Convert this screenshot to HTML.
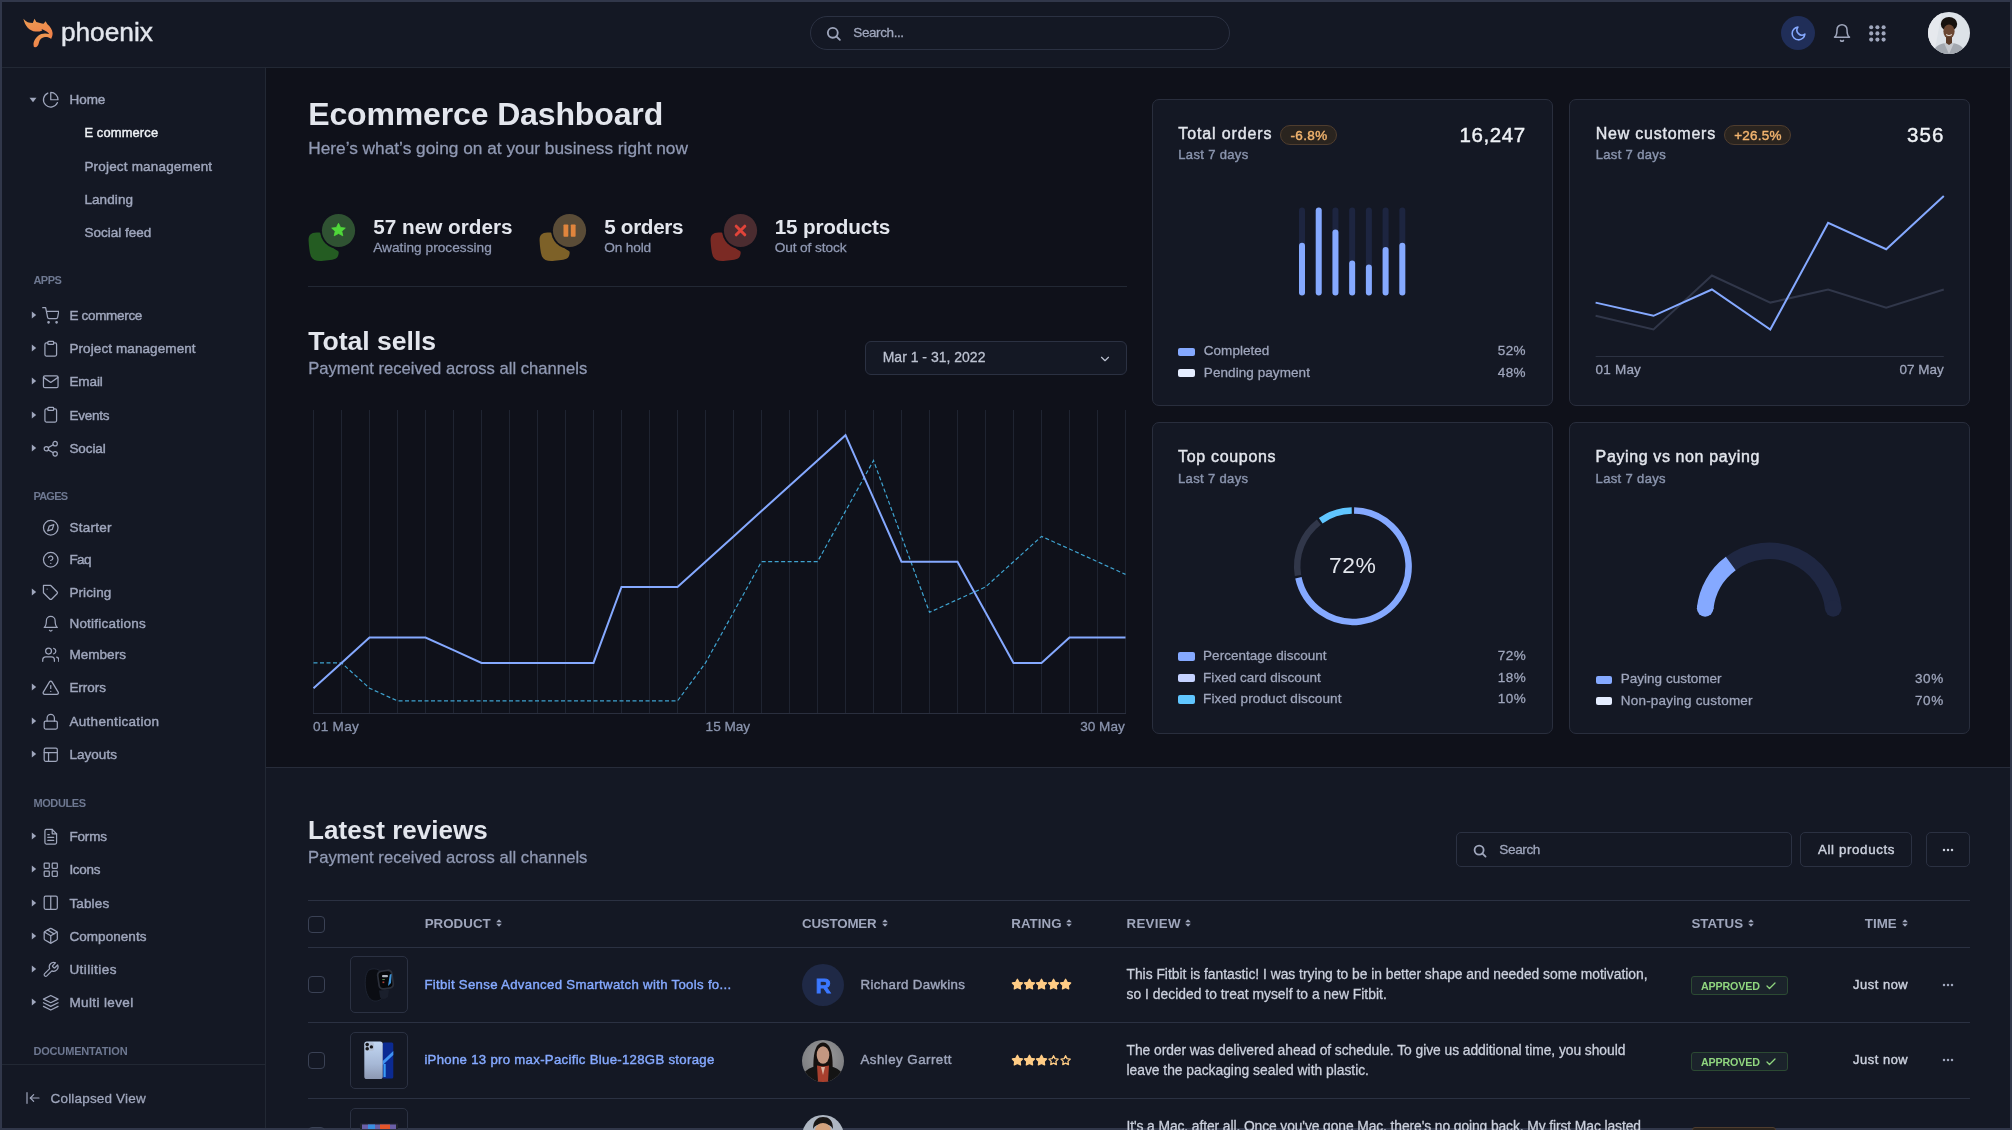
<!DOCTYPE html>
<html><head><meta charset="utf-8"><style>
html,body{margin:0;padding:0;width:2012px;height:1130px;overflow:hidden;background:#31374a}
.t{position:absolute;white-space:nowrap;font-family:"Liberation Sans",sans-serif}
.b{position:absolute;display:block}
</style></head><body><div style="position:absolute;left:0;top:0;width:2012px;height:1130px;will-change:transform">
<div class="b" style="left:2px;top:2px;width:2008px;height:1126px;background:#0f111a"></div>
<div class="b" style="left:2px;top:2px;width:2008px;height:65px;background:#141824"></div>
<div class="b" style="left:2px;top:67px;width:2008px;height:1px;background:#222834"></div>
<div class="b" style="left:2px;top:68px;width:263px;height:1060px;background:#141824"></div>
<div class="b" style="left:265px;top:68px;width:1px;height:1060px;background:#222834"></div>
<div class="b" style="left:266px;top:767px;width:1744px;height:1px;background:#272c3a"></div>
<div class="b" style="left:266px;top:768px;width:1744px;height:360px;background:#141824"></div>
<svg class="b" style="left:18px;top:14px" width="40" height="38" viewBox="0 0 40 38">
<defs><linearGradient id="lg" x1="0" y1="0" x2="0.3" y2="1"><stop offset="0" stop-color="#ec9c53"/><stop offset="1" stop-color="#f1824a"/></linearGradient></defs>
<path fill="url(#lg)" d="M5.4,4.8 C8,8.2 11,9.1 14.8,9.1 L16.5,4.7 L18.3,8 C20.6,8.7 23.5,9.4 25.6,9.8 L27.6,7.3 L29.4,10.2 C32.1,12.5 34.3,15.5 34.6,19 C34.7,21 34.1,23 33.2,24.7 C32,23.8 31.3,23.3 30.3,23.2 L30.9,20.3 C30.9,19.6 30.8,19.1 30.5,18.9 C28.5,17.3 26,15.6 23.4,14.9 C23.8,15.5 24.3,16.1 24.2,16.4 C22.5,17.2 20,17.7 17.5,17.6 C11.5,17.1 6.8,12 5.4,4.8 Z"/>
<path fill="url(#lg)" d="M33.3,24.7 C31,23.1 28.5,22.9 26.9,23 C24.5,23.3 22.3,25 21.5,26.7 C20.9,28.1 20.9,30.1 19.5,32.1 C18.8,33 17.8,33.4 16.9,33.3 C16,33.1 15.6,32.6 15.7,32 C15.5,30.5 15.4,29.5 15.7,28.5 C16.2,26.4 17.5,24.4 20.2,21.8 C22,20.5 24.5,19.6 26.9,19.6 C28.5,19.5 30,19.8 31.1,20.1 Z"/>
</svg>
<div class="t" style="left:60.90px;top:18.74px;font-size:26.3px;line-height:26.3px;color:#e3e6ed;letter-spacing:-0.021px;-webkit-text-stroke:0.42px #e3e6ed;">phoenix</div>
<div class="b" style="left:810px;top:16px;width:420px;height:34px;border:1px solid #2b3142;border-radius:17px;box-sizing:border-box"></div>
<svg class="b" style="left:825.00px;top:24.70px" width="17" height="17" viewBox="0 0 24 24" fill="none" stroke="#9fa6bc" stroke-width="2.6" stroke-linecap="round" stroke-linejoin="round"><circle cx="11" cy="11" r="7"/><line x1="21" y1="21" x2="16" y2="16"/></svg>
<div class="t" style="left:853.30px;top:26.27px;font-size:13.5px;line-height:13.5px;color:#9fa6bc;letter-spacing:-0.406px;-webkit-text-stroke:0.28px #9fa6bc;">Search...</div>
<div class="b" style="left:1781px;top:16px;width:34px;height:34px;background:#202e58;border-radius:50%"></div>
<svg class="b" style="left:1789.50px;top:24.50px" width="17" height="17" viewBox="0 0 24 24" fill="none" stroke="#85a9ff" stroke-width="2.2" stroke-linecap="round" stroke-linejoin="round"><path d="M21 12.79A9 9 0 1 1 11.21 3 7 7 0 0 0 21 12.79z"/></svg>
<svg class="b" style="left:1832.00px;top:23.00px" width="20" height="20" viewBox="0 0 24 24" fill="none" stroke="#9fa6bc" stroke-width="1.8" stroke-linecap="round" stroke-linejoin="round"><path d="M18 8A6 6 0 0 0 6 8c0 7-3 9-3 9h18s-3-2-3-9"/><path d="M13.73 21a2 2 0 0 1-3.46 0"/></svg>
<svg class="b" style="left:1869px;top:25.3px;" width="17" height="17" viewBox="0 0 17 17"><circle cx="2.2" cy="2.2" r="2.05" fill="#9fa6bc"/><circle cx="8.4" cy="2.2" r="2.05" fill="#9fa6bc"/><circle cx="14.6" cy="2.2" r="2.05" fill="#9fa6bc"/><circle cx="2.2" cy="8.4" r="2.05" fill="#9fa6bc"/><circle cx="8.4" cy="8.4" r="2.05" fill="#9fa6bc"/><circle cx="14.6" cy="8.4" r="2.05" fill="#9fa6bc"/><circle cx="2.2" cy="14.6" r="2.05" fill="#9fa6bc"/><circle cx="8.4" cy="14.6" r="2.05" fill="#9fa6bc"/><circle cx="14.6" cy="14.6" r="2.05" fill="#9fa6bc"/></svg>
<svg class="b" style="left:1928px;top:12px" width="42" height="42" viewBox="0 0 42 42">
<defs><clipPath id="av1"><circle cx="21" cy="21" r="21"/></clipPath></defs>
<g clip-path="url(#av1)"><rect width="42" height="42" fill="#dde2e8"/>
<path d="M0,0 L14,0 L6,42 L0,42 Z" fill="#e6e9ee"/>
<path d="M5,42 C6,35 10,31.5 21,30.5 C32,31.5 36,35 37,42 Z" fill="#a3a8b0"/>
<path d="M16,31 L21,42 L26,31 Z" fill="#c4c7cd"/>
<ellipse cx="21" cy="12" rx="8.2" ry="7" fill="#17120f"/>
<ellipse cx="21" cy="19.5" rx="5.6" ry="7" fill="#6a4632"/>
<path d="M18,25 L24,25 L24,31 L21,33 L18,31 Z" fill="#5a3a28"/>
<path d="M18.2,22.5 Q21,24.5 23.8,22.5" stroke="#e8e0d8" stroke-width="1.1" fill="none"/>
</g></svg>
<svg class="b" style="left:29.4px;top:97.3px;" width="8" height="6" viewBox="0 0 8 6"><path d="M0.5,0.8 L7.5,0.8 L4,5.2 Z" fill="#9fa6bc"/></svg>
<svg class="b" style="left:41.55px;top:91.25px" width="17.5" height="17.5" viewBox="0 0 24 24" fill="none" stroke="#9fa6bc" stroke-width="1.7" stroke-linecap="round" stroke-linejoin="round"><path d="M21.21 15.89A10 10 0 1 1 8 2.83"/><path d="M22 12A10 10 0 0 0 12 2v10z"/></svg>
<div class="t" style="left:69.60px;top:92.67px;font-size:13.5px;line-height:13.5px;color:#9fa6bc;letter-spacing:-0.077px;-webkit-text-stroke:0.42px #9fa6bc;">Home</div>
<div class="t" style="left:84.40px;top:126.98px;font-size:12.9px;line-height:12.9px;color:#eff2f6;letter-spacing:0.149px;-webkit-text-stroke:0.42px #eff2f6;">E commerce</div>
<div class="t" style="left:84.40px;top:159.57px;font-size:13.5px;line-height:13.5px;color:#9fa6bc;letter-spacing:0.186px;-webkit-text-stroke:0.42px #9fa6bc;">Project management</div>
<div class="t" style="left:84.40px;top:192.67px;font-size:13.5px;line-height:13.5px;color:#9fa6bc;letter-spacing:0.101px;-webkit-text-stroke:0.42px #9fa6bc;">Landing</div>
<div class="t" style="left:84.40px;top:226.17px;font-size:13.5px;line-height:13.5px;color:#9fa6bc;letter-spacing:0.007px;-webkit-text-stroke:0.42px #9fa6bc;">Social feed</div>
<div class="t" style="left:33.40px;top:275.49px;font-size:11px;line-height:11px;color:#6e7891;font-weight:700;letter-spacing:-0.490px;">APPS</div>
<svg class="b" style="left:31.200000000000003px;top:310.8px;" width="6" height="8" viewBox="0 0 6 8"><path d="M0.8,0.5 L0.8,7.5 L5.2,4 Z" fill="#9fa6bc"/></svg>
<svg class="b" style="left:41.55px;top:306.55px" width="17.5" height="17.5" viewBox="0 0 24 24" fill="none" stroke="#9fa6bc" stroke-width="1.7" stroke-linecap="round" stroke-linejoin="round"><circle cx="9" cy="21" r="1"/><circle cx="20" cy="21" r="1"/><path d="M1 1h4l2.68 13.39a2 2 0 0 0 2 1.61h9.72a2 2 0 0 0 2-1.61L23 6H6"/></svg>
<div class="t" style="left:69.40px;top:308.77px;font-size:13.5px;line-height:13.5px;color:#9fa6bc;letter-spacing:-0.311px;-webkit-text-stroke:0.42px #9fa6bc;">E commerce</div>
<svg class="b" style="left:31.200000000000003px;top:344.20000000000005px;" width="6" height="8" viewBox="0 0 6 8"><path d="M0.8,0.5 L0.8,7.5 L5.2,4 Z" fill="#9fa6bc"/></svg>
<svg class="b" style="left:41.55px;top:339.95px" width="17.5" height="17.5" viewBox="0 0 24 24" fill="none" stroke="#9fa6bc" stroke-width="1.7" stroke-linecap="round" stroke-linejoin="round"><path d="M16 4h2a2 2 0 0 1 2 2v14a2 2 0 0 1-2 2H6a2 2 0 0 1-2-2V6a2 2 0 0 1 2-2h2"/><rect x="8" y="2" width="8" height="4" rx="1" ry="1"/></svg>
<div class="t" style="left:69.40px;top:342.17px;font-size:13.5px;line-height:13.5px;color:#9fa6bc;letter-spacing:0.098px;-webkit-text-stroke:0.42px #9fa6bc;">Project management</div>
<svg class="b" style="left:31.200000000000003px;top:377.40000000000003px;" width="6" height="8" viewBox="0 0 6 8"><path d="M0.8,0.5 L0.8,7.5 L5.2,4 Z" fill="#9fa6bc"/></svg>
<svg class="b" style="left:41.55px;top:373.15px" width="17.5" height="17.5" viewBox="0 0 24 24" fill="none" stroke="#9fa6bc" stroke-width="1.7" stroke-linecap="round" stroke-linejoin="round"><path d="M4 4h16c1.1 0 2 .9 2 2v12c0 1.1-.9 2-2 2H4c-1.1 0-2-.9-2-2V6c0-1.1.9-2 2-2z"/><polyline points="22,6 12,13 2,6"/></svg>
<div class="t" style="left:69.40px;top:375.37px;font-size:13.5px;line-height:13.5px;color:#9fa6bc;letter-spacing:-0.091px;-webkit-text-stroke:0.42px #9fa6bc;">Email</div>
<svg class="b" style="left:31.200000000000003px;top:410.6px;" width="6" height="8" viewBox="0 0 6 8"><path d="M0.8,0.5 L0.8,7.5 L5.2,4 Z" fill="#9fa6bc"/></svg>
<svg class="b" style="left:41.55px;top:406.35px" width="17.5" height="17.5" viewBox="0 0 24 24" fill="none" stroke="#9fa6bc" stroke-width="1.7" stroke-linecap="round" stroke-linejoin="round"><path d="M16 4h2a2 2 0 0 1 2 2v14a2 2 0 0 1-2 2H6a2 2 0 0 1-2-2V6a2 2 0 0 1 2-2h2"/><rect x="8" y="2" width="8" height="4" rx="1" ry="1"/></svg>
<div class="t" style="left:69.40px;top:408.57px;font-size:13.5px;line-height:13.5px;color:#9fa6bc;letter-spacing:-0.236px;-webkit-text-stroke:0.42px #9fa6bc;">Events</div>
<svg class="b" style="left:31.200000000000003px;top:443.8px;" width="6" height="8" viewBox="0 0 6 8"><path d="M0.8,0.5 L0.8,7.5 L5.2,4 Z" fill="#9fa6bc"/></svg>
<svg class="b" style="left:41.55px;top:439.55px" width="17.5" height="17.5" viewBox="0 0 24 24" fill="none" stroke="#9fa6bc" stroke-width="1.7" stroke-linecap="round" stroke-linejoin="round"><circle cx="18" cy="5" r="3"/><circle cx="6" cy="12" r="3"/><circle cx="18" cy="19" r="3"/><line x1="8.59" y1="13.51" x2="15.42" y2="17.49"/><line x1="15.41" y1="6.51" x2="8.59" y2="10.49"/></svg>
<div class="t" style="left:69.40px;top:441.77px;font-size:13.5px;line-height:13.5px;color:#9fa6bc;letter-spacing:-0.076px;-webkit-text-stroke:0.42px #9fa6bc;">Social</div>
<div class="t" style="left:33.40px;top:490.99px;font-size:11px;line-height:11px;color:#6e7891;font-weight:700;letter-spacing:-0.755px;">PAGES</div>
<svg class="b" style="left:41.55px;top:518.85px" width="17.5" height="17.5" viewBox="0 0 24 24" fill="none" stroke="#9fa6bc" stroke-width="1.7" stroke-linecap="round" stroke-linejoin="round"><circle cx="12" cy="12" r="10"/><polygon points="16.24 7.76 14.12 14.12 7.76 16.24 9.88 9.88 16.24 7.76"/></svg>
<div class="t" style="left:69.40px;top:521.07px;font-size:13.5px;line-height:13.5px;color:#9fa6bc;letter-spacing:0.261px;-webkit-text-stroke:0.42px #9fa6bc;">Starter</div>
<svg class="b" style="left:41.55px;top:550.55px" width="17.5" height="17.5" viewBox="0 0 24 24" fill="none" stroke="#9fa6bc" stroke-width="1.7" stroke-linecap="round" stroke-linejoin="round"><circle cx="12" cy="12" r="10"/><path d="M9.09 9a3 3 0 0 1 5.83 1c0 2-3 3-3 3"/><line x1="12" y1="17" x2="12.01" y2="17"/></svg>
<div class="t" style="left:69.40px;top:552.77px;font-size:13.5px;line-height:13.5px;color:#9fa6bc;letter-spacing:-0.591px;-webkit-text-stroke:0.42px #9fa6bc;">Faq</div>
<svg class="b" style="left:31.200000000000003px;top:588.1px;" width="6" height="8" viewBox="0 0 6 8"><path d="M0.8,0.5 L0.8,7.5 L5.2,4 Z" fill="#9fa6bc"/></svg>
<svg class="b" style="left:41.55px;top:583.85px" width="17.5" height="17.5" viewBox="0 0 24 24" fill="none" stroke="#9fa6bc" stroke-width="1.7" stroke-linecap="round" stroke-linejoin="round"><path d="M20.59 13.41l-7.17 7.17a2 2 0 0 1-2.83 0L2 12V2h10l8.59 8.59a2 2 0 0 1 0 2.82z"/><line x1="7" y1="7" x2="7.01" y2="7"/></svg>
<div class="t" style="left:69.40px;top:586.07px;font-size:13.5px;line-height:13.5px;color:#9fa6bc;letter-spacing:0.103px;-webkit-text-stroke:0.42px #9fa6bc;">Pricing</div>
<svg class="b" style="left:41.55px;top:614.95px" width="17.5" height="17.5" viewBox="0 0 24 24" fill="none" stroke="#9fa6bc" stroke-width="1.7" stroke-linecap="round" stroke-linejoin="round"><path d="M18 8A6 6 0 0 0 6 8c0 7-3 9-3 9h18s-3-2-3-9"/><path d="M13.73 21a2 2 0 0 1-3.46 0"/></svg>
<div class="t" style="left:69.40px;top:617.17px;font-size:13.5px;line-height:13.5px;color:#9fa6bc;letter-spacing:0.236px;-webkit-text-stroke:0.42px #9fa6bc;">Notifications</div>
<svg class="b" style="left:41.55px;top:646.05px" width="17.5" height="17.5" viewBox="0 0 24 24" fill="none" stroke="#9fa6bc" stroke-width="1.7" stroke-linecap="round" stroke-linejoin="round"><path d="M17 21v-2a4 4 0 0 0-4-4H5a4 4 0 0 0-4 4v2"/><circle cx="9" cy="7" r="4"/><path d="M23 21v-2a4 4 0 0 0-3-3.87"/><path d="M16 3.13a4 4 0 0 1 0 7.75"/></svg>
<div class="t" style="left:69.40px;top:648.27px;font-size:13.5px;line-height:13.5px;color:#9fa6bc;letter-spacing:0.051px;-webkit-text-stroke:0.42px #9fa6bc;">Members</div>
<svg class="b" style="left:31.200000000000003px;top:683.0px;" width="6" height="8" viewBox="0 0 6 8"><path d="M0.8,0.5 L0.8,7.5 L5.2,4 Z" fill="#9fa6bc"/></svg>
<svg class="b" style="left:41.55px;top:678.75px" width="17.5" height="17.5" viewBox="0 0 24 24" fill="none" stroke="#9fa6bc" stroke-width="1.7" stroke-linecap="round" stroke-linejoin="round"><path d="M10.29 3.86L1.82 18a2 2 0 0 0 1.71 3h16.94a2 2 0 0 0 1.71-3L13.71 3.86a2 2 0 0 0-3.42 0z"/><line x1="12" y1="9" x2="12" y2="13"/><line x1="12" y1="17" x2="12.01" y2="17"/></svg>
<div class="t" style="left:69.40px;top:680.97px;font-size:13.5px;line-height:13.5px;color:#9fa6bc;letter-spacing:-0.033px;-webkit-text-stroke:0.42px #9fa6bc;">Errors</div>
<svg class="b" style="left:31.200000000000003px;top:717.1px;" width="6" height="8" viewBox="0 0 6 8"><path d="M0.8,0.5 L0.8,7.5 L5.2,4 Z" fill="#9fa6bc"/></svg>
<svg class="b" style="left:41.55px;top:712.85px" width="17.5" height="17.5" viewBox="0 0 24 24" fill="none" stroke="#9fa6bc" stroke-width="1.7" stroke-linecap="round" stroke-linejoin="round"><rect x="3" y="11" width="18" height="11" rx="2" ry="2"/><path d="M7 11V7a5 5 0 0 1 10 0v4"/></svg>
<div class="t" style="left:69.40px;top:715.07px;font-size:13.5px;line-height:13.5px;color:#9fa6bc;letter-spacing:0.315px;-webkit-text-stroke:0.42px #9fa6bc;">Authentication</div>
<svg class="b" style="left:31.200000000000003px;top:750.4px;" width="6" height="8" viewBox="0 0 6 8"><path d="M0.8,0.5 L0.8,7.5 L5.2,4 Z" fill="#9fa6bc"/></svg>
<svg class="b" style="left:41.55px;top:746.15px" width="17.5" height="17.5" viewBox="0 0 24 24" fill="none" stroke="#9fa6bc" stroke-width="1.7" stroke-linecap="round" stroke-linejoin="round"><rect x="3" y="3" width="18" height="18" rx="2" ry="2"/><line x1="3" y1="9" x2="21" y2="9"/><line x1="9" y1="21" x2="9" y2="9"/></svg>
<div class="t" style="left:69.40px;top:748.37px;font-size:13.5px;line-height:13.5px;color:#9fa6bc;letter-spacing:0.048px;-webkit-text-stroke:0.42px #9fa6bc;">Layouts</div>
<div class="t" style="left:33.40px;top:797.89px;font-size:11px;line-height:11px;color:#6e7891;font-weight:700;letter-spacing:-0.383px;">MODULES</div>
<svg class="b" style="left:31.200000000000003px;top:831.8000000000001px;" width="6" height="8" viewBox="0 0 6 8"><path d="M0.8,0.5 L0.8,7.5 L5.2,4 Z" fill="#9fa6bc"/></svg>
<svg class="b" style="left:41.55px;top:827.55px" width="17.5" height="17.5" viewBox="0 0 24 24" fill="none" stroke="#9fa6bc" stroke-width="1.7" stroke-linecap="round" stroke-linejoin="round"><path d="M14 2H6a2 2 0 0 0-2 2v16a2 2 0 0 0 2 2h12a2 2 0 0 0 2-2V8z"/><polyline points="14 2 14 8 20 8"/><line x1="16" y1="13" x2="8" y2="13"/><line x1="16" y1="17" x2="8" y2="17"/><polyline points="10 9 9 9 8 9"/></svg>
<div class="t" style="left:69.40px;top:829.77px;font-size:13.5px;line-height:13.5px;color:#9fa6bc;letter-spacing:-0.166px;-webkit-text-stroke:0.42px #9fa6bc;">Forms</div>
<svg class="b" style="left:31.200000000000003px;top:864.9px;" width="6" height="8" viewBox="0 0 6 8"><path d="M0.8,0.5 L0.8,7.5 L5.2,4 Z" fill="#9fa6bc"/></svg>
<svg class="b" style="left:41.55px;top:860.65px" width="17.5" height="17.5" viewBox="0 0 24 24" fill="none" stroke="#9fa6bc" stroke-width="1.7" stroke-linecap="round" stroke-linejoin="round"><rect x="3" y="3" width="7" height="7" rx="1"/><rect x="14" y="3" width="7" height="7" rx="1"/><rect x="14" y="14" width="7" height="7" rx="1"/><rect x="3" y="14" width="7" height="7" rx="1"/></svg>
<div class="t" style="left:69.40px;top:862.87px;font-size:13.5px;line-height:13.5px;color:#9fa6bc;letter-spacing:-0.320px;-webkit-text-stroke:0.42px #9fa6bc;">Icons</div>
<svg class="b" style="left:31.200000000000003px;top:898.6px;" width="6" height="8" viewBox="0 0 6 8"><path d="M0.8,0.5 L0.8,7.5 L5.2,4 Z" fill="#9fa6bc"/></svg>
<svg class="b" style="left:41.55px;top:894.35px" width="17.5" height="17.5" viewBox="0 0 24 24" fill="none" stroke="#9fa6bc" stroke-width="1.7" stroke-linecap="round" stroke-linejoin="round"><path d="M12 3h7a2 2 0 0 1 2 2v14a2 2 0 0 1-2 2h-7m0-18H5a2 2 0 0 0-2 2v14a2 2 0 0 0 2 2h7m0-18v18"/></svg>
<div class="t" style="left:69.40px;top:896.57px;font-size:13.5px;line-height:13.5px;color:#9fa6bc;letter-spacing:0.151px;-webkit-text-stroke:0.42px #9fa6bc;">Tables</div>
<svg class="b" style="left:31.200000000000003px;top:931.7px;" width="6" height="8" viewBox="0 0 6 8"><path d="M0.8,0.5 L0.8,7.5 L5.2,4 Z" fill="#9fa6bc"/></svg>
<svg class="b" style="left:41.55px;top:927.45px" width="17.5" height="17.5" viewBox="0 0 24 24" fill="none" stroke="#9fa6bc" stroke-width="1.7" stroke-linecap="round" stroke-linejoin="round"><line x1="16.5" y1="9.4" x2="7.5" y2="4.21"/><path d="M21 16V8a2 2 0 0 0-1-1.73l-7-4a2 2 0 0 0-2 0l-7 4A2 2 0 0 0 3 8v8a2 2 0 0 0 1 1.73l7 4a2 2 0 0 0 2 0l7-4A2 2 0 0 0 21 16z"/><polyline points="3.27 6.96 12 12.01 20.73 6.96"/><line x1="12" y1="22.08" x2="12" y2="12"/></svg>
<div class="t" style="left:69.40px;top:929.67px;font-size:13.5px;line-height:13.5px;color:#9fa6bc;letter-spacing:0.056px;-webkit-text-stroke:0.42px #9fa6bc;">Components</div>
<svg class="b" style="left:31.200000000000003px;top:964.8000000000001px;" width="6" height="8" viewBox="0 0 6 8"><path d="M0.8,0.5 L0.8,7.5 L5.2,4 Z" fill="#9fa6bc"/></svg>
<svg class="b" style="left:41.55px;top:960.55px" width="17.5" height="17.5" viewBox="0 0 24 24" fill="none" stroke="#9fa6bc" stroke-width="1.7" stroke-linecap="round" stroke-linejoin="round"><path d="M14.7 6.3a1 1 0 0 0 0 1.4l1.6 1.6a1 1 0 0 0 1.4 0l3.77-3.77a6 6 0 0 1-7.94 7.94l-6.91 6.91a2.12 2.12 0 0 1-3-3l6.91-6.91a6 6 0 0 1 7.94-7.94l-3.76 3.76z"/></svg>
<div class="t" style="left:69.40px;top:962.77px;font-size:13.5px;line-height:13.5px;color:#9fa6bc;letter-spacing:0.436px;-webkit-text-stroke:0.42px #9fa6bc;">Utilities</div>
<svg class="b" style="left:31.200000000000003px;top:997.9px;" width="6" height="8" viewBox="0 0 6 8"><path d="M0.8,0.5 L0.8,7.5 L5.2,4 Z" fill="#9fa6bc"/></svg>
<svg class="b" style="left:41.55px;top:993.65px" width="17.5" height="17.5" viewBox="0 0 24 24" fill="none" stroke="#9fa6bc" stroke-width="1.7" stroke-linecap="round" stroke-linejoin="round"><polygon points="12 2 2 7 12 12 22 7 12 2"/><polyline points="2 17 12 22 22 17"/><polyline points="2 12 12 17 22 12"/></svg>
<div class="t" style="left:69.40px;top:995.87px;font-size:13.5px;line-height:13.5px;color:#9fa6bc;letter-spacing:0.385px;-webkit-text-stroke:0.42px #9fa6bc;">Multi level</div>
<div class="t" style="left:33.40px;top:1045.59px;font-size:11px;line-height:11px;color:#6e7891;font-weight:700;letter-spacing:-0.160px;">DOCUMENTATION</div>
<div class="b" style="left:2px;top:1064px;width:263px;height:1px;background:#222834"></div>
<svg class="b" style="left:25.00px;top:1089.50px" width="16" height="16" viewBox="0 0 24 24" fill="none" stroke="#9fa6bc" stroke-width="1.8" stroke-linecap="round" stroke-linejoin="round"><line x1="3" y1="4" x2="3" y2="20"/><line x1="21" y1="12" x2="8" y2="12"/><polyline points="13 7 8 12 13 17"/></svg>
<div class="t" style="left:50.60px;top:1091.77px;font-size:13.5px;line-height:13.5px;color:#9fa6bc;letter-spacing:0.174px;-webkit-text-stroke:0.28px #9fa6bc;">Collapsed View</div>
<div class="t" style="left:308.20px;top:98.41px;font-size:32px;line-height:32px;color:#e3e6ed;font-weight:700;letter-spacing:-0.137px;">Ecommerce Dashboard</div>
<div class="t" style="left:308.20px;top:139.56px;font-size:17.3px;line-height:17.3px;color:#9099b3;-webkit-text-stroke:0.28px #9099b3;">Here’s what’s going on at your business right now</div>
<svg class="b" style="left:307.9px;top:205.0px" width="60" height="60" viewBox="0 0 60 60">
<path d="M0.6,36 C0.3,30.5 2.5,27.8 8.5,27.6 C12,27.5 14,28 15.5,30 C18.5,37 24,43 30,46 C31.2,46.8 30.8,49.5 29.5,52 C27.5,54.8 22,55.2 15.5,55.8 C9,56.4 5,55.5 3,51.5 C1.5,47.5 0.9,41 0.6,36 Z" fill="#245c22"/>
<circle cx="30.5" cy="25.5" r="18.4" fill="#0f111a"/>
<circle cx="30.5" cy="25.5" r="16.6" fill="#2f5232"/>
<path d="M30.5,18.3 L32.6,22.5 L37.3,23.1 L33.8,26.2 L34.8,30.8 L30.5,28.5 L26.2,30.8 L27.2,26.2 L23.7,23.1 L28.4,22.5 Z" fill="#4fd83a" stroke="#4fd83a" stroke-width="0.8" stroke-linejoin="round"/>
</svg>
<svg class="b" style="left:539.0px;top:205.0px" width="60" height="60" viewBox="0 0 60 60">
<path d="M0.6,36 C0.3,30.5 2.5,27.8 8.5,27.6 C12,27.5 14,28 15.5,30 C18.5,37 24,43 30,46 C31.2,46.8 30.8,49.5 29.5,52 C27.5,54.8 22,55.2 15.5,55.8 C9,56.4 5,55.5 3,51.5 C1.5,47.5 0.9,41 0.6,36 Z" fill="#7d6128"/>
<circle cx="30.5" cy="25.5" r="18.4" fill="#0f111a"/>
<circle cx="30.5" cy="25.5" r="16.6" fill="#5a4c37"/>
<rect x="24.5" y="19.4" width="4.8" height="12.4" rx="0.8" fill="#e0853d"/><rect x="31.8" y="19.4" width="4.8" height="12.4" rx="0.8" fill="#e0853d"/>
</svg>
<svg class="b" style="left:709.9px;top:205.0px" width="60" height="60" viewBox="0 0 60 60">
<path d="M0.6,36 C0.3,30.5 2.5,27.8 8.5,27.6 C12,27.5 14,28 15.5,30 C18.5,37 24,43 30,46 C31.2,46.8 30.8,49.5 29.5,52 C27.5,54.8 22,55.2 15.5,55.8 C9,56.4 5,55.5 3,51.5 C1.5,47.5 0.9,41 0.6,36 Z" fill="#7b2a24"/>
<circle cx="30.5" cy="25.5" r="18.4" fill="#0f111a"/>
<circle cx="30.5" cy="25.5" r="16.6" fill="#4b2c30"/>
<path d="M26.2,21.2 L34.8,29.8 M34.8,21.2 L26.2,29.8" stroke="#e0443a" stroke-width="3" stroke-linecap="round"/>
</svg>
<div class="t" style="left:373.20px;top:217.18px;font-size:20.7px;line-height:20.7px;color:#e3e6ed;font-weight:700;letter-spacing:0.016px;">57 new orders</div>
<div class="t" style="left:373.20px;top:241.40px;font-size:13.7px;line-height:13.7px;color:#9099b3;letter-spacing:0.010px;-webkit-text-stroke:0.28px #9099b3;">Awating processing</div>
<div class="t" style="left:604.30px;top:217.18px;font-size:20.7px;line-height:20.7px;color:#e3e6ed;font-weight:700;letter-spacing:-0.346px;">5 orders</div>
<div class="t" style="left:604.30px;top:241.40px;font-size:13.7px;line-height:13.7px;color:#9099b3;letter-spacing:-0.170px;-webkit-text-stroke:0.28px #9099b3;">On hold</div>
<div class="t" style="left:774.70px;top:217.18px;font-size:20.7px;line-height:20.7px;color:#e3e6ed;font-weight:700;letter-spacing:-0.165px;">15 products</div>
<div class="t" style="left:774.70px;top:241.40px;font-size:13.7px;line-height:13.7px;color:#9099b3;letter-spacing:-0.108px;-webkit-text-stroke:0.28px #9099b3;">Out of stock</div>
<div class="b" style="left:308px;top:286px;width:819px;height:1px;background:#222834"></div>
<div class="t" style="left:308.20px;top:328.48px;font-size:26.6px;line-height:26.6px;color:#e3e6ed;font-weight:700;letter-spacing:-0.014px;">Total sells</div>
<div class="t" style="left:308.20px;top:360.95px;font-size:16.6px;line-height:16.6px;color:#9099b3;letter-spacing:0.016px;-webkit-text-stroke:0.28px #9099b3;">Payment received across all channels</div>
<div class="b" style="left:865px;top:341px;width:262px;height:34px;border:1px solid #2b3142;border-radius:6px;box-sizing:border-box;background:#141824"></div>
<div class="t" style="left:882.70px;top:350.45px;font-size:14px;line-height:14px;color:#bcc2d1;-webkit-text-stroke:0.28px #bcc2d1;">Mar 1 - 31, 2022</div>
<svg class="b" style="left:1097.50px;top:351.60px" width="14" height="14" viewBox="0 0 24 24" fill="none" stroke="#bcc2d1" stroke-width="2.0" stroke-linecap="round" stroke-linejoin="round"><polyline points="6 9 12 15 18 9"/></svg>
<svg class="b" style="left:0;top:0" width="1140" height="760" viewBox="0 0 1140 760"><line x1="313.5" y1="410" x2="313.5" y2="713" stroke="#1f2431" stroke-width="1"/><line x1="341.5" y1="410" x2="341.5" y2="713" stroke="#1f2431" stroke-width="1"/><line x1="369.5" y1="410" x2="369.5" y2="713" stroke="#1f2431" stroke-width="1"/><line x1="397.5" y1="410" x2="397.5" y2="713" stroke="#1f2431" stroke-width="1"/><line x1="425.5" y1="410" x2="425.5" y2="713" stroke="#1f2431" stroke-width="1"/><line x1="453.5" y1="410" x2="453.5" y2="713" stroke="#1f2431" stroke-width="1"/><line x1="481.5" y1="410" x2="481.5" y2="713" stroke="#1f2431" stroke-width="1"/><line x1="509.5" y1="410" x2="509.5" y2="713" stroke="#1f2431" stroke-width="1"/><line x1="537.5" y1="410" x2="537.5" y2="713" stroke="#1f2431" stroke-width="1"/><line x1="565.5" y1="410" x2="565.5" y2="713" stroke="#1f2431" stroke-width="1"/><line x1="593.5" y1="410" x2="593.5" y2="713" stroke="#1f2431" stroke-width="1"/><line x1="621.5" y1="410" x2="621.5" y2="713" stroke="#1f2431" stroke-width="1"/><line x1="649.5" y1="410" x2="649.5" y2="713" stroke="#1f2431" stroke-width="1"/><line x1="677.5" y1="410" x2="677.5" y2="713" stroke="#1f2431" stroke-width="1"/><line x1="705.5" y1="410" x2="705.5" y2="713" stroke="#1f2431" stroke-width="1"/><line x1="733.5" y1="410" x2="733.5" y2="713" stroke="#1f2431" stroke-width="1"/><line x1="761.5" y1="410" x2="761.5" y2="713" stroke="#1f2431" stroke-width="1"/><line x1="789.5" y1="410" x2="789.5" y2="713" stroke="#1f2431" stroke-width="1"/><line x1="817.5" y1="410" x2="817.5" y2="713" stroke="#1f2431" stroke-width="1"/><line x1="845.5" y1="410" x2="845.5" y2="713" stroke="#1f2431" stroke-width="1"/><line x1="873.5" y1="410" x2="873.5" y2="713" stroke="#1f2431" stroke-width="1"/><line x1="901.5" y1="410" x2="901.5" y2="713" stroke="#1f2431" stroke-width="1"/><line x1="929.5" y1="410" x2="929.5" y2="713" stroke="#1f2431" stroke-width="1"/><line x1="957.5" y1="410" x2="957.5" y2="713" stroke="#1f2431" stroke-width="1"/><line x1="985.5" y1="410" x2="985.5" y2="713" stroke="#1f2431" stroke-width="1"/><line x1="1013.5" y1="410" x2="1013.5" y2="713" stroke="#1f2431" stroke-width="1"/><line x1="1041.5" y1="410" x2="1041.5" y2="713" stroke="#1f2431" stroke-width="1"/><line x1="1069.5" y1="410" x2="1069.5" y2="713" stroke="#1f2431" stroke-width="1"/><line x1="1097.5" y1="410" x2="1097.5" y2="713" stroke="#1f2431" stroke-width="1"/><line x1="1125.5" y1="410" x2="1125.5" y2="713" stroke="#1f2431" stroke-width="1"/><line x1="313" y1="713.5" x2="1126" y2="713.5" stroke="#2a2f3e" stroke-width="1.2"/><polyline points="313.5,662.9 341.5,662.9 369.5,688.2 397.5,700.9 425.5,700.9 453.5,700.9 481.5,700.9 509.5,700.9 537.5,700.9 565.5,700.9 593.5,700.9 621.5,700.9 649.5,700.9 677.5,700.9 705.5,662.9 733.5,612.3 761.5,561.7 789.5,561.7 817.5,561.7 845.5,511.1 873.5,460.5 901.5,536.4 929.5,612.3 957.5,599.6 985.5,587.0 1013.5,561.7 1041.5,536.4 1069.5,549.0 1097.5,561.7 1125.5,574.4" fill="none" stroke="#3fa3d0" stroke-width="1.2" stroke-dasharray="4 2.5"/><polyline points="313.5,688.2 341.5,662.9 369.5,637.6 397.5,637.6 425.5,637.6 453.5,650.2 481.5,662.9 509.5,662.9 537.5,662.9 565.5,662.9 593.5,662.9 621.5,587.0 649.5,587.0 677.5,587.0 705.5,561.7 733.5,536.4 761.5,511.1 789.5,485.8 817.5,460.5 845.5,435.2 873.5,498.4 901.5,561.7 929.5,561.7 957.5,561.7 985.5,612.3 1013.5,662.9 1041.5,662.9 1069.5,637.6 1097.5,637.6 1125.5,637.6" fill="none" stroke="#85a9ff" stroke-width="2" stroke-linejoin="miter"/></svg>
<div class="t" style="left:313.00px;top:720.49px;font-size:13.6px;line-height:13.6px;color:#8a94ad;letter-spacing:0.241px;-webkit-text-stroke:0.28px #8a94ad;">01 May</div>
<div class="t" style="left:705.60px;top:720.49px;font-size:13.6px;line-height:13.6px;color:#8a94ad;-webkit-text-stroke:0.28px #8a94ad;">15 May</div>
<div class="t" style="left:1080.20px;top:720.49px;font-size:13.6px;line-height:13.6px;color:#8a94ad;-webkit-text-stroke:0.28px #8a94ad;">30 May</div>
<div class="b" style="left:1152px;top:99px;width:401px;height:307px;background:#141824;border:1px solid #292e3d;border-radius:7px;box-sizing:border-box"></div>
<div class="t" style="left:1178.30px;top:126.46px;font-size:16px;line-height:16px;color:#e3e6ed;letter-spacing:0.866px;-webkit-text-stroke:0.42px #e3e6ed;">Total orders</div>
<div class="b" style="left:1280.3px;top:125.1px;width:56.700000000000045px;height:19.700000000000017px;background:#2a241f;border:1px solid #4f3d2e;border-radius:10px;box-sizing:border-box"></div>
<div class="t" style="left:1290.40px;top:128.87px;font-size:13.5px;line-height:13.5px;color:#f3b56f;letter-spacing:0.380px;-webkit-text-stroke:0.42px #f3b56f;">-6.8%</div>
<div class="t" style="left:1459.60px;top:124.85px;font-size:20.5px;line-height:20.5px;color:#eff2f6;letter-spacing:0.593px;-webkit-text-stroke:0.42px #eff2f6;">16,247</div>
<div class="t" style="left:1178.30px;top:148.10px;font-size:13px;line-height:13px;color:#8a94ad;letter-spacing:0.340px;-webkit-text-stroke:0.42px #8a94ad;">Last 7 days</div>
<svg class="b" style="left:0;top:0" width="1560" height="310"><line x1="1302.00" y1="210.4" x2="1302.00" y2="292.6" stroke="#1d2540" stroke-width="6" stroke-linecap="round"/><line x1="1302.00" y1="245.70" x2="1302.00" y2="292.6" stroke="#85a9ff" stroke-width="6" stroke-linecap="round"/><line x1="1318.72" y1="210.4" x2="1318.72" y2="292.6" stroke="#1d2540" stroke-width="6" stroke-linecap="round"/><line x1="1318.72" y1="210.40" x2="1318.72" y2="292.6" stroke="#85a9ff" stroke-width="6" stroke-linecap="round"/><line x1="1335.44" y1="210.4" x2="1335.44" y2="292.6" stroke="#1d2540" stroke-width="6" stroke-linecap="round"/><line x1="1335.44" y1="232.60" x2="1335.44" y2="292.6" stroke="#85a9ff" stroke-width="6" stroke-linecap="round"/><line x1="1352.16" y1="210.4" x2="1352.16" y2="292.6" stroke="#1d2540" stroke-width="6" stroke-linecap="round"/><line x1="1352.16" y1="263.60" x2="1352.16" y2="292.6" stroke="#85a9ff" stroke-width="6" stroke-linecap="round"/><line x1="1368.88" y1="210.4" x2="1368.88" y2="292.6" stroke="#1d2540" stroke-width="6" stroke-linecap="round"/><line x1="1368.88" y1="267.60" x2="1368.88" y2="292.6" stroke="#85a9ff" stroke-width="6" stroke-linecap="round"/><line x1="1385.60" y1="210.4" x2="1385.60" y2="292.6" stroke="#1d2540" stroke-width="6" stroke-linecap="round"/><line x1="1385.60" y1="250.10" x2="1385.60" y2="292.6" stroke="#85a9ff" stroke-width="6" stroke-linecap="round"/><line x1="1402.32" y1="210.4" x2="1402.32" y2="292.6" stroke="#1d2540" stroke-width="6" stroke-linecap="round"/><line x1="1402.32" y1="245.70" x2="1402.32" y2="292.6" stroke="#85a9ff" stroke-width="6" stroke-linecap="round"/></svg>
<div class="b" style="left:1178px;top:347.7px;width:16.7px;height:8.4px;background:#85a9ff;border-radius:2px"></div>
<div class="t" style="left:1203.80px;top:344.37px;font-size:13.5px;line-height:13.5px;color:#9fa6bc;letter-spacing:0.034px;-webkit-text-stroke:0.28px #9fa6bc;">Completed</div>
<div class="t" style="left:1497.80px;top:344.37px;font-size:13.5px;line-height:13.5px;color:#9fa6bc;letter-spacing:0.334px;-webkit-text-stroke:0.28px #9fa6bc;">52%</div>
<div class="b" style="left:1178px;top:368.9px;width:16.7px;height:8.4px;background:#e5edff;border-radius:2px"></div>
<div class="t" style="left:1203.80px;top:365.57px;font-size:13.5px;line-height:13.5px;color:#9fa6bc;letter-spacing:0.076px;-webkit-text-stroke:0.28px #9fa6bc;">Pending payment</div>
<div class="t" style="left:1497.80px;top:365.57px;font-size:13.5px;line-height:13.5px;color:#9fa6bc;letter-spacing:0.334px;-webkit-text-stroke:0.28px #9fa6bc;">48%</div>
<div class="b" style="left:1569px;top:99px;width:401px;height:307px;background:#141824;border:1px solid #292e3d;border-radius:7px;box-sizing:border-box"></div>
<div class="t" style="left:1595.70px;top:126.46px;font-size:16px;line-height:16px;color:#e3e6ed;letter-spacing:0.774px;-webkit-text-stroke:0.42px #e3e6ed;">New customers</div>
<div class="b" style="left:1724.1px;top:125.1px;width:67.10000000000014px;height:19.700000000000017px;background:#2a241f;border:1px solid #4f3d2e;border-radius:10px;box-sizing:border-box"></div>
<div class="t" style="left:1734.20px;top:128.87px;font-size:13.5px;line-height:13.5px;color:#f3b56f;letter-spacing:0.222px;-webkit-text-stroke:0.42px #f3b56f;">+26.5%</div>
<div class="t" style="left:1907.00px;top:124.85px;font-size:20.5px;line-height:20.5px;color:#eff2f6;letter-spacing:1.041px;-webkit-text-stroke:0.42px #eff2f6;">356</div>
<div class="t" style="left:1595.70px;top:148.10px;font-size:13px;line-height:13px;color:#8a94ad;letter-spacing:0.350px;-webkit-text-stroke:0.42px #8a94ad;">Last 7 days</div>
<svg class="b" style="left:0;top:0" width="1980" height="400"><line x1="1595.6" y1="356.5" x2="1943.8" y2="356.5" stroke="#2c3242" stroke-width="1"/><polyline points="1595.6,315.8 1653.5,329.5 1711.9,275.5 1770.3,302.6 1828.1,289.5 1886.2,307.6 1943.8,289.5" fill="none" stroke="#31374a" stroke-width="2"/><polyline points="1595.6,302.6 1653.5,315.8 1711.9,289.5 1770.3,329.5 1828.1,222.9 1886.2,249.2 1943.8,196.0" fill="none" stroke="#85a9ff" stroke-width="2"/></svg>
<div class="t" style="left:1595.60px;top:363.27px;font-size:13.5px;line-height:13.5px;color:#9fa6bc;letter-spacing:0.201px;-webkit-text-stroke:0.28px #9fa6bc;">01 May</div>
<div class="t" style="left:1899.40px;top:363.27px;font-size:13.5px;line-height:13.5px;color:#9fa6bc;letter-spacing:0.021px;-webkit-text-stroke:0.28px #9fa6bc;">07 May</div>
<div class="b" style="left:1152px;top:422px;width:401px;height:312px;background:#141824;border:1px solid #292e3d;border-radius:7px;box-sizing:border-box"></div>
<div class="t" style="left:1178.00px;top:449.36px;font-size:16px;line-height:16px;color:#e3e6ed;letter-spacing:0.689px;-webkit-text-stroke:0.42px #e3e6ed;">Top coupons</div>
<div class="t" style="left:1178.00px;top:472.20px;font-size:13px;line-height:13px;color:#8a94ad;letter-spacing:0.350px;-webkit-text-stroke:0.42px #8a94ad;">Last 7 days</div>
<svg class="b" style="left:0;top:0" width="1560" height="740"><path d="M1354.07,510.51 A55.7,55.7 0 1 1 1298.42,577.78" fill="none" stroke="#85a9ff" stroke-width="6.5"/><path d="M1297.98,575.49 A55.7,55.7 0 0 1 1318.84,522.13" fill="none" stroke="#31374a" stroke-width="6.5"/><path d="M1320.71,520.74 A55.7,55.7 0 0 1 1351.73,510.51" fill="none" stroke="#60c6ff" stroke-width="6.5"/></svg>
<div class="t" style="left:1329.10px;top:554.32px;font-size:22.9px;line-height:22.9px;color:#e3e6ed;letter-spacing:0.486px;">72%</div>
<div class="b" style="left:1178px;top:652.4px;width:16.7px;height:8.4px;background:#85a9ff;border-radius:2px"></div>
<div class="t" style="left:1203.10px;top:649.07px;font-size:13.5px;line-height:13.5px;color:#9fa6bc;letter-spacing:0.025px;-webkit-text-stroke:0.28px #9fa6bc;">Percentage discount</div>
<div class="t" style="left:1497.70px;top:649.07px;font-size:13.5px;line-height:13.5px;color:#9fa6bc;letter-spacing:0.584px;-webkit-text-stroke:0.28px #9fa6bc;">72%</div>
<div class="b" style="left:1178px;top:674.0px;width:16.7px;height:8.4px;background:#c5d2ff;border-radius:2px"></div>
<div class="t" style="left:1203.10px;top:670.67px;font-size:13.5px;line-height:13.5px;color:#9fa6bc;letter-spacing:0.032px;-webkit-text-stroke:0.28px #9fa6bc;">Fixed card discount</div>
<div class="t" style="left:1497.70px;top:670.67px;font-size:13.5px;line-height:13.5px;color:#9fa6bc;letter-spacing:0.584px;-webkit-text-stroke:0.28px #9fa6bc;">18%</div>
<div class="b" style="left:1178px;top:695.2px;width:16.7px;height:8.4px;background:#60c6ff;border-radius:2px"></div>
<div class="t" style="left:1203.10px;top:691.87px;font-size:13.5px;line-height:13.5px;color:#9fa6bc;letter-spacing:0.119px;-webkit-text-stroke:0.28px #9fa6bc;">Fixed product discount</div>
<div class="t" style="left:1497.70px;top:691.87px;font-size:13.5px;line-height:13.5px;color:#9fa6bc;letter-spacing:0.584px;-webkit-text-stroke:0.28px #9fa6bc;">10%</div>
<div class="b" style="left:1569px;top:422px;width:401px;height:312px;background:#141824;border:1px solid #292e3d;border-radius:7px;box-sizing:border-box"></div>
<div class="t" style="left:1595.60px;top:449.36px;font-size:16px;line-height:16px;color:#e3e6ed;letter-spacing:0.615px;-webkit-text-stroke:0.42px #e3e6ed;">Paying vs non paying</div>
<div class="t" style="left:1595.60px;top:472.20px;font-size:13px;line-height:13px;color:#8a94ad;letter-spacing:0.350px;-webkit-text-stroke:0.42px #8a94ad;">Last 7 days</div>
<svg class="b" style="left:0;top:0" width="1980" height="740"><path d="M1730.80,563.50 A64.4,64.4 0 0 1 1833.24,608.36" fill="none" stroke="#1f2742" stroke-width="16.6"/><circle cx="1833.24" cy="608.36" r="8.3" fill="#1f2742"/><path d="M1705.16,608.36 A64.4,64.4 0 0 1 1730.80,563.50" fill="none" stroke="#85a9ff" stroke-width="16.6"/><circle cx="1705.16" cy="608.36" r="8.3" fill="#85a9ff"/></svg>
<div class="b" style="left:1595.6px;top:675.5px;width:16.7px;height:8.4px;background:#85a9ff;border-radius:2px"></div>
<div class="t" style="left:1620.80px;top:672.17px;font-size:13.5px;line-height:13.5px;color:#9fa6bc;letter-spacing:0.008px;-webkit-text-stroke:0.28px #9fa6bc;">Paying customer</div>
<div class="t" style="left:1915.00px;top:672.17px;font-size:13.5px;line-height:13.5px;color:#9fa6bc;letter-spacing:0.584px;-webkit-text-stroke:0.28px #9fa6bc;">30%</div>
<div class="b" style="left:1595.6px;top:697.1px;width:16.7px;height:8.4px;background:#e5edff;border-radius:2px"></div>
<div class="t" style="left:1620.80px;top:693.77px;font-size:13.5px;line-height:13.5px;color:#9fa6bc;letter-spacing:0.189px;-webkit-text-stroke:0.28px #9fa6bc;">Non-paying customer</div>
<div class="t" style="left:1915.00px;top:693.77px;font-size:13.5px;line-height:13.5px;color:#9fa6bc;letter-spacing:0.584px;-webkit-text-stroke:0.28px #9fa6bc;">70%</div>
<div class="t" style="left:308.10px;top:816.89px;font-size:26px;line-height:26px;color:#e3e6ed;font-weight:700;letter-spacing:0.035px;">Latest reviews</div>
<div class="t" style="left:308.10px;top:850.45px;font-size:16.6px;line-height:16.6px;color:#9099b3;letter-spacing:0.022px;-webkit-text-stroke:0.28px #9099b3;">Payment received across all channels</div>
<div class="b" style="left:1456px;top:832px;width:336px;height:35px;border:1px solid #2b3142;border-radius:5px;box-sizing:border-box"></div>
<svg class="b" style="left:1471.55px;top:842.55px" width="15.5" height="15.5" viewBox="0 0 24 24" fill="none" stroke="#9fa6bc" stroke-width="2.8" stroke-linecap="round" stroke-linejoin="round"><circle cx="11" cy="11" r="7"/><line x1="21" y1="21" x2="16" y2="16"/></svg>
<div class="t" style="left:1499.30px;top:843.29px;font-size:13.6px;line-height:13.6px;color:#9fa6bc;letter-spacing:-0.396px;-webkit-text-stroke:0.28px #9fa6bc;">Search</div>
<div class="b" style="left:1800px;top:832px;width:112px;height:35px;border:1px solid #2b3142;border-radius:5px;box-sizing:border-box"></div>
<div class="t" style="left:1818.00px;top:842.74px;font-size:13.3px;line-height:13.3px;color:#cbd0dd;letter-spacing:0.632px;-webkit-text-stroke:0.42px #cbd0dd;">All products</div>
<div class="b" style="left:1926px;top:832px;width:44px;height:35px;border:1px solid #2b3142;border-radius:5px;box-sizing:border-box"></div>
<svg class="b" style="left:1941.6px;top:848px;" width="12" height="4" viewBox="0 0 12 4"><circle cx="2" cy="2" r="1.25" fill="#cbd0dd"/><circle cx="6" cy="2" r="1.25" fill="#cbd0dd"/><circle cx="10" cy="2" r="1.25" fill="#cbd0dd"/></svg>
<div class="b" style="left:308px;top:900px;width:1662px;height:1px;background:#2b3142"></div>
<div class="b" style="left:308px;top:915.9px;width:17px;height:17px;border:1px solid #3a4154;border-radius:4px;box-sizing:border-box"></div>
<div class="t" style="left:424.70px;top:917.04px;font-size:13.3px;line-height:13.3px;color:#9fa6bc;font-weight:700;letter-spacing:0.036px;">PRODUCT</div>
<svg class="b" style="left:495.5px;top:919px;" width="6" height="8" viewBox="0 0 6 8"><path d="M3,0.3 L5.8,3.2 L0.2,3.2 Z M3,7.7 L5.8,4.8 L0.2,4.8 Z" fill="#9fa6bc"/></svg>
<div class="t" style="left:802.00px;top:917.04px;font-size:13.3px;line-height:13.3px;color:#9fa6bc;font-weight:700;letter-spacing:-0.170px;">CUSTOMER</div>
<svg class="b" style="left:881.5px;top:919px;" width="6" height="8" viewBox="0 0 6 8"><path d="M3,0.3 L5.8,3.2 L0.2,3.2 Z M3,7.7 L5.8,4.8 L0.2,4.8 Z" fill="#9fa6bc"/></svg>
<div class="t" style="left:1011.30px;top:917.04px;font-size:13.3px;line-height:13.3px;color:#9fa6bc;font-weight:700;letter-spacing:0.040px;">RATING</div>
<svg class="b" style="left:1066.3px;top:919px;" width="6" height="8" viewBox="0 0 6 8"><path d="M3,0.3 L5.8,3.2 L0.2,3.2 Z M3,7.7 L5.8,4.8 L0.2,4.8 Z" fill="#9fa6bc"/></svg>
<div class="t" style="left:1126.50px;top:917.04px;font-size:13.3px;line-height:13.3px;color:#9fa6bc;font-weight:700;letter-spacing:0.326px;">REVIEW</div>
<svg class="b" style="left:1185.3999999999999px;top:919px;" width="6" height="8" viewBox="0 0 6 8"><path d="M3,0.3 L5.8,3.2 L0.2,3.2 Z M3,7.7 L5.8,4.8 L0.2,4.8 Z" fill="#9fa6bc"/></svg>
<div class="t" style="left:1691.40px;top:917.04px;font-size:13.3px;line-height:13.3px;color:#9fa6bc;font-weight:700;letter-spacing:0.090px;">STATUS</div>
<svg class="b" style="left:1747.9px;top:919px;" width="6" height="8" viewBox="0 0 6 8"><path d="M3,0.3 L5.8,3.2 L0.2,3.2 Z M3,7.7 L5.8,4.8 L0.2,4.8 Z" fill="#9fa6bc"/></svg>
<div class="t" style="left:1864.70px;top:917.04px;font-size:13.3px;line-height:13.3px;color:#9fa6bc;font-weight:700;letter-spacing:0.078px;">TIME</div>
<svg class="b" style="left:1901.5px;top:919px;" width="6" height="8" viewBox="0 0 6 8"><path d="M3,0.3 L5.8,3.2 L0.2,3.2 Z M3,7.7 L5.8,4.8 L0.2,4.8 Z" fill="#9fa6bc"/></svg>
<div class="b" style="left:308px;top:947px;width:1662px;height:1px;background:#2b3142"></div>
<div class="b" style="left:308px;top:976.2px;width:17px;height:17px;border:1px solid #3a4154;border-radius:4px;box-sizing:border-box"></div>
<div class="b" style="left:350px;top:956px;width:58px;height:57px;border:1px solid #2b3142;border-radius:5px;box-sizing:border-box"></div>
<svg class="b" style="left:360px;top:965px" width="38" height="40" viewBox="0 0 38 40">
<path d="M10,4.5 C6,6.5 5,13 5.3,20 C5.8,28 8.5,34.5 13.5,35.8 C17.5,36.6 21.5,35 23,31.5 L25,24 L19,5 C16,3.6 12.5,3.6 10,4.5 Z" fill="#0b0d13" stroke="#232a3a" stroke-width="0.7"/>
<path d="M19,25.5 L29,24.5 L28,32 C25,34.5 21,34.5 20,32 Z" fill="#1a1f2c"/>
<rect x="17.5" y="4.8" width="16" height="19.5" rx="4.5" transform="rotate(-8 25.5 14.5)" fill="#2b2f3a"/>
<rect x="19.2" y="6.5" width="12.6" height="16.1" rx="3.5" transform="rotate(-8 25.5 14.5)" fill="#060709"/>
<rect x="22" y="10" width="6" height="2.2" rx="1" fill="#aeb3bd"/>
<rect x="22.3" y="14" width="2.5" height="0.9" fill="#5f8f58"/><rect x="22.5" y="16.5" width="1.8" height="1.6" fill="#a8403a"/>
<path d="M29.8,9.5 L31.6,9 L31,18 L28,21 L28.8,16 Z" fill="#3f93d6"/>
</svg>
<div class="t" style="left:424.40px;top:978.23px;font-size:13.2px;line-height:13.2px;color:#85a9ff;letter-spacing:0.318px;-webkit-text-stroke:0.42px #85a9ff;">Fitbit Sense Advanced Smartwatch with Tools fo...</div>
<div class="b" style="left:802px;top:964px;width:42px;height:42px;background:#1f2946;border-radius:50%"></div>
<div class="t" style="left:815.81px;top:975.32px;font-size:21px;line-height:21px;color:#3b78ff;font-weight:700;-webkit-text-stroke:0.9px #3b78ff;">R</div>
<div class="t" style="left:860.50px;top:977.94px;font-size:13.3px;line-height:13.3px;color:#9fa6bc;letter-spacing:0.338px;-webkit-text-stroke:0.42px #9fa6bc;">Richard Dawkins</div>
<svg class="b" style="left:1011px;top:978.1999999999999px;" width="62" height="13" viewBox="0 0 62 13"><polygon points="6.40,1.30 8.02,4.38 11.44,4.96 9.02,7.45 9.52,10.89 6.40,9.35 3.28,10.89 3.78,7.45 1.36,4.96 4.78,4.38" fill="#ffcc85" stroke="#ffcc85" stroke-width="1.3" stroke-linejoin="round"/><polygon points="18.45,1.30 20.07,4.38 23.49,4.96 21.07,7.45 21.57,10.89 18.45,9.35 15.33,10.89 15.83,7.45 13.41,4.96 16.83,4.38" fill="#ffcc85" stroke="#ffcc85" stroke-width="1.3" stroke-linejoin="round"/><polygon points="30.50,1.30 32.12,4.38 35.54,4.96 33.12,7.45 33.62,10.89 30.50,9.35 27.38,10.89 27.88,7.45 25.46,4.96 28.88,4.38" fill="#ffcc85" stroke="#ffcc85" stroke-width="1.3" stroke-linejoin="round"/><polygon points="42.55,1.30 44.17,4.38 47.59,4.96 45.17,7.45 45.67,10.89 42.55,9.35 39.43,10.89 39.93,7.45 37.51,4.96 40.93,4.38" fill="#ffcc85" stroke="#ffcc85" stroke-width="1.3" stroke-linejoin="round"/><polygon points="54.60,1.30 56.22,4.38 59.64,4.96 57.22,7.45 57.72,10.89 54.60,9.35 51.48,10.89 51.98,7.45 49.56,4.96 52.98,4.38" fill="#ffcc85" stroke="#ffcc85" stroke-width="1.3" stroke-linejoin="round"/></svg>
<div class="t" style="left:1126.50px;top:968.48px;font-size:13.85px;line-height:13.85px;color:#cbd0dd;letter-spacing:-0.017px;-webkit-text-stroke:0.28px #cbd0dd;">This Fitbit is fantastic! I was trying to be in better shape and needed some motivation,</div>
<div class="t" style="left:1126.50px;top:987.68px;font-size:13.85px;line-height:13.85px;color:#cbd0dd;letter-spacing:0.022px;-webkit-text-stroke:0.28px #cbd0dd;">so I decided to treat myself to a new Fitbit.</div>
<div class="b" style="left:1691px;top:976px;width:97px;height:19px;background:#1b232b;border:1px solid #2c4a33;border-radius:3px;box-sizing:border-box"></div>
<div class="t" style="left:1700.90px;top:980.64px;font-size:10.7px;line-height:10.7px;color:#90d67f;font-weight:700;letter-spacing:-0.124px;">APPROVED</div>
<svg class="b" style="left:1765.40px;top:979.60px" width="12" height="12" viewBox="0 0 24 24" fill="none" stroke="#90d67f" stroke-width="2.6" stroke-linecap="round" stroke-linejoin="round"><polyline points="20 6 9 17 4 12"/></svg>
<div class="t" style="left:1853.00px;top:978.88px;font-size:12.9px;line-height:12.9px;color:#cbd0dd;letter-spacing:0.544px;-webkit-text-stroke:0.42px #cbd0dd;">Just now</div>
<svg class="b" style="left:1941.6px;top:982.5px;" width="12" height="4" viewBox="0 0 12 4"><circle cx="2" cy="2" r="1.25" fill="#9fa6bc"/><circle cx="6" cy="2" r="1.25" fill="#9fa6bc"/><circle cx="10" cy="2" r="1.25" fill="#9fa6bc"/></svg>
<div class="b" style="left:308px;top:1022px;width:1662px;height:1px;background:#2b3142"></div>
<div class="b" style="left:308px;top:1051.6px;width:17px;height:17px;border:1px solid #3a4154;border-radius:4px;box-sizing:border-box"></div>
<div class="b" style="left:350px;top:1032px;width:58px;height:57px;border:1px solid #2b3142;border-radius:5px;box-sizing:border-box"></div>
<svg class="b" style="left:362px;top:1040px" width="34" height="42" viewBox="0 0 34 42">
<defs><linearGradient id="ip1" x1="0" y1="0" x2="0" y2="1"><stop offset="0" stop-color="#c2d7f2"/><stop offset="0.6" stop-color="#a6b8d6"/><stop offset="1" stop-color="#8c98b2"/></linearGradient></defs>
<rect x="20.5" y="2.5" width="10.8" height="35.9" rx="1.5" fill="#0b2a92"/>
<path d="M20.7,21 L31.3,11 L31.3,15 L20.7,25 Z" fill="#3f92f2"/>
<rect x="21.5" y="24" width="2.2" height="13" fill="#3a9cf5"/>
<rect x="2.3" y="1.6" width="18.4" height="37.4" rx="2.6" fill="url(#ip1)"/>
<rect x="2.8" y="2.2" width="9.2" height="8.8" rx="2" fill="#b4c2d8"/>
<circle cx="5.2" cy="4.6" r="1.8" fill="#15161a"/><circle cx="5.2" cy="8.8" r="1.8" fill="#15161a"/><circle cx="9.4" cy="6.9" r="1.7" fill="#15161a"/>
</svg>
<div class="t" style="left:424.40px;top:1053.33px;font-size:13.2px;line-height:13.2px;color:#85a9ff;letter-spacing:0.297px;-webkit-text-stroke:0.42px #85a9ff;">iPhone 13 pro max-Pacific Blue-128GB storage</div>
<svg class="b" style="left:802px;top:1040px" width="42" height="42" viewBox="0 0 42 42">
<defs><clipPath id="av2"><circle cx="21" cy="21" r="21"/></clipPath><radialGradient id="bg2" cx="0.5" cy="0.4" r="0.65"><stop offset="0" stop-color="#9c9c9e"/><stop offset="1" stop-color="#78797c"/></radialGradient></defs>
<g clip-path="url(#av2)"><rect width="42" height="42" fill="url(#bg2)"/>
<path d="M11.5,30 C11,18 12,3 21,2.6 C30,3 31,18 30.5,30 Z" fill="#16110f"/>
<ellipse cx="21" cy="15" rx="6.3" ry="8.8" fill="#c49781"/>
<path d="M0,42 L2,33 C6,28 11,27 15,26 L21,30 L27,26 C31,27 36,28 40,33 L42,42 Z" fill="#141414"/>
<path d="M15,25.5 L21,26.5 L27,25.5 L26,42 L16,42 Z" fill="#a8402e"/>
<path d="M19,27 L21,35 L23,27 Z" fill="#d9b3a0"/>
</g></svg>
<div class="t" style="left:860.50px;top:1052.94px;font-size:13.3px;line-height:13.3px;color:#9fa6bc;letter-spacing:0.465px;-webkit-text-stroke:0.42px #9fa6bc;">Ashley Garrett</div>
<svg class="b" style="left:1011px;top:1053.8000000000002px;" width="62" height="13" viewBox="0 0 62 13"><polygon points="6.40,1.30 8.02,4.38 11.44,4.96 9.02,7.45 9.52,10.89 6.40,9.35 3.28,10.89 3.78,7.45 1.36,4.96 4.78,4.38" fill="#ffcc85" stroke="#ffcc85" stroke-width="1.3" stroke-linejoin="round"/><polygon points="18.45,1.30 20.07,4.38 23.49,4.96 21.07,7.45 21.57,10.89 18.45,9.35 15.33,10.89 15.83,7.45 13.41,4.96 16.83,4.38" fill="#ffcc85" stroke="#ffcc85" stroke-width="1.3" stroke-linejoin="round"/><polygon points="30.50,1.30 32.12,4.38 35.54,4.96 33.12,7.45 33.62,10.89 30.50,9.35 27.38,10.89 27.88,7.45 25.46,4.96 28.88,4.38" fill="#ffcc85" stroke="#ffcc85" stroke-width="1.3" stroke-linejoin="round"/><polygon points="42.55,1.70 43.99,4.62 47.21,5.09 44.88,7.36 45.43,10.56 42.55,9.05 39.67,10.56 40.22,7.36 37.89,5.09 41.11,4.62" fill="none" stroke="#ffcc85" stroke-width="1.3" stroke-linejoin="round"/><polygon points="54.60,1.70 56.04,4.62 59.26,5.09 56.93,7.36 57.48,10.56 54.60,9.05 51.72,10.56 52.27,7.36 49.94,5.09 53.16,4.62" fill="none" stroke="#ffcc85" stroke-width="1.3" stroke-linejoin="round"/></svg>
<div class="t" style="left:1126.50px;top:1043.88px;font-size:13.85px;line-height:13.85px;color:#cbd0dd;letter-spacing:-0.052px;-webkit-text-stroke:0.28px #cbd0dd;">The order was delivered ahead of schedule. To give us additional time, you should</div>
<div class="t" style="left:1126.50px;top:1063.58px;font-size:13.85px;line-height:13.85px;color:#cbd0dd;letter-spacing:-0.019px;-webkit-text-stroke:0.28px #cbd0dd;">leave the packaging sealed with plastic.</div>
<div class="b" style="left:1691px;top:1052px;width:97px;height:19px;background:#1b232b;border:1px solid #2c4a33;border-radius:3px;box-sizing:border-box"></div>
<div class="t" style="left:1700.90px;top:1056.64px;font-size:10.7px;line-height:10.7px;color:#90d67f;font-weight:700;letter-spacing:-0.124px;">APPROVED</div>
<svg class="b" style="left:1765.40px;top:1055.60px" width="12" height="12" viewBox="0 0 24 24" fill="none" stroke="#90d67f" stroke-width="2.6" stroke-linecap="round" stroke-linejoin="round"><polyline points="20 6 9 17 4 12"/></svg>
<div class="t" style="left:1853.00px;top:1054.38px;font-size:12.9px;line-height:12.9px;color:#cbd0dd;letter-spacing:0.544px;-webkit-text-stroke:0.42px #cbd0dd;">Just now</div>
<svg class="b" style="left:1941.6px;top:1058px;" width="12" height="4" viewBox="0 0 12 4"><circle cx="2" cy="2" r="1.25" fill="#9fa6bc"/><circle cx="6" cy="2" r="1.25" fill="#9fa6bc"/><circle cx="10" cy="2" r="1.25" fill="#9fa6bc"/></svg>
<div class="b" style="left:308px;top:1098px;width:1662px;height:1px;background:#2b3142"></div>
<div class="b" style="left:308px;top:1127.2px;width:17px;height:17px;border:1px solid #3a4154;border-radius:4px;box-sizing:border-box"></div>
<div class="b" style="left:350px;top:1108px;width:58px;height:57px;border:1px solid #2b3142;border-radius:5px;box-sizing:border-box"></div>
<svg class="b" style="left:360px;top:1123px" width="38" height="6" viewBox="0 0 38 6">
<rect x="0" y="0.5" width="38" height="6" fill="#22252c"/>
<rect x="2" y="1.5" width="34" height="5" fill="#6b5fa8"/><rect x="20" y="1.5" width="10" height="5" fill="#e5552a"/><rect x="8" y="1.5" width="7" height="5" fill="#3a8ee0"/>
</svg>
<svg class="b" style="left:802px;top:1114.5px" width="42" height="42" viewBox="0 0 42 42">
<defs><clipPath id="av3"><circle cx="21" cy="21" r="21"/></clipPath></defs>
<g clip-path="url(#av3)"><rect width="42" height="42" fill="#aeb6c2"/>
<path d="M11,14 C11,5 16,2 21,2 C27,2 31,5 31,14 C29,10 25,9 21,9 C17,9 13,10 11,14 Z" fill="#1a1716"/><ellipse cx="21" cy="16" rx="8" ry="8" fill="#d4a27c"/><path d="M12,11 C14,5 28,5 30,11 L30,9 C27,4 15,4 12,9 Z" fill="#1a1716"/>
</g></svg>
<div class="t" style="left:1126.50px;top:1119.88px;font-size:13.85px;line-height:13.85px;color:#cbd0dd;letter-spacing:-0.096px;-webkit-text-stroke:0.28px #cbd0dd;">It's a Mac, after all. Once you've gone Mac, there's no going back. My first Mac lasted</div>
<div class="b" style="left:1692px;top:1127px;width:84px;height:19px;background:#2a241f;border:1px solid #4f3d2e;border-radius:3px;box-sizing:border-box"></div>
</div></body></html>
